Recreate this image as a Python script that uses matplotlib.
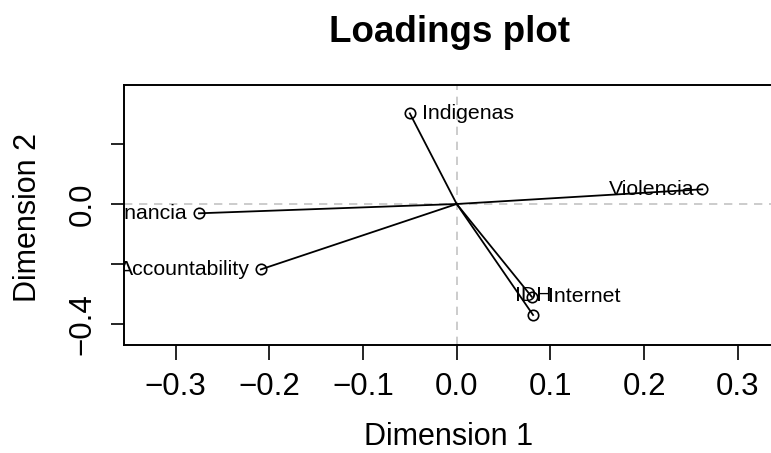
import numpy as np
import matplotlib.pyplot as plt
import matplotlib.transforms as mtransforms

# loadings
variables = ["Indigenas", "Gobernancia", "Accountability", "Violencia", "Internet", "IDH"]
dim1 = [-0.050, -0.275, -0.209, 0.262, 0.080, 0.0815]
dim2 = [0.302, -0.031, -0.218, 0.049, -0.309, -0.370]

# label placement: (dx, dy) in points, horizontal alignment
label_pos = [(8.4, 0, "left"), (-7.9, 0, "right"), (-7.9, 0, "right"),
             (-6.0, 0, "right"), (11.5, 0, "left"), (0, 13.7, "center")]

plt.rcParams["font.family"] = ["Liberation Sans", "DejaVu Sans"]

fig = plt.figure(figsize=(7.71, 4.53), dpi=100)
ax = fig.add_axes([0.1602, 0.2384, 0.8418, 0.574])

# dashed reference lines through the origin
ax.axhline(0, color="#c4c4c4", lw=1.2, ls=(0, (5, 4)), zorder=1)
ax.axvline(0, color="#c4c4c4", lw=1.2, ls=(0, (5, 4)), zorder=1)

for x, y in zip(dim1, dim2):
    ax.plot([0, x], [0, y], color="black", lw=1.3, zorder=2)
ax.plot(dim1, dim2, "o", ms=7.5, mfc="none", mec="black", mew=1.2, zorder=3)

for name, x, y, (dx, dy, ha) in zip(variables, dim1, dim2, label_pos):
    tr = mtransforms.offset_copy(ax.transData, fig=fig, x=dx, y=dy, units="points")
    ax.text(x, y, name, transform=tr, ha=ha, va="center", fontsize=15.3,
            color="black", clip_on=True, zorder=4)

ax.set_xlim(-0.3555, 0.337)
ax.set_ylim(-0.47, 0.3967)

ax.set_xticks([-0.3, -0.2, -0.1, 0.0, 0.1, 0.2, 0.3],
              ["\u22120.3", "\u22120.2", "\u22120.1", "0.0", "0.1", "0.2", "0.3"])
ax.set_yticks([0.2, 0.0, -0.2, -0.4], ["", "0.0", "", "\u22120.4"],
              rotation=90, va="center")
ax.tick_params(axis="x", length=10.8, width=1.2, pad=8.5, labelsize=22.5)
ax.tick_params(axis="y", length=9.5, width=1.2, pad=9, labelsize=22.5)
for s in ax.spines.values():
    s.set_linewidth(1.4)

fig.text(0.5824, 0.907, "Loadings plot", ha="center", va="baseline",
         fontsize=26.5, fontweight="bold")
fig.text(0.5817, 0.036, "Dimension 1", ha="center", va="center", fontsize=22)
fig.text(0.036, 0.52, "Dimension 2", ha="center", va="center",
         rotation=90, fontsize=22)

fig.savefig("out.png", dpi=100)
